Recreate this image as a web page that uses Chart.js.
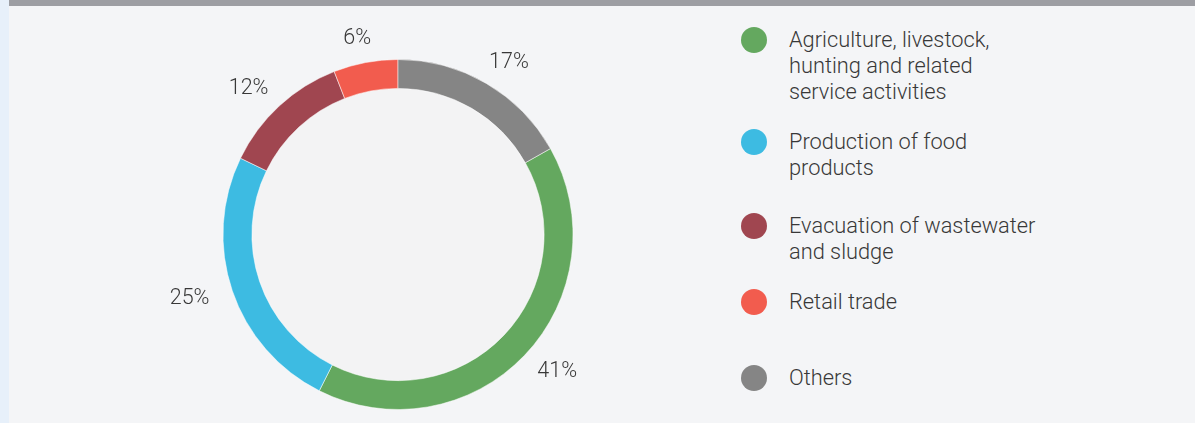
<!DOCTYPE html>
<html>
<head>
<meta charset="utf-8">
<script src="https://cdn.jsdelivr.net/npm/chart.js@4.4.0/dist/chart.umd.min.js"></script>
<style>
    html, body {
        margin: 0;
        padding: 0;
        width: 1195px;
        height: 423px;
        overflow: hidden;
        background: #f4f5f7;
        font-family: "Roboto", sans-serif;
    }
    .side { position: absolute; left: 0; top: 0; width: 9px; height: 423px; background: #e7f0fa; }
    .topbar { position: absolute; left: 9px; top: 0; right: 0; height: 6px; background: #9d9ea3; }
    .chartBox { position: absolute; left: 98px; top: 0; width: 600px; height: 423px; }
    #legend { position: absolute; left: 741px; top: 0; }
    .item { position: absolute; left: 0; display: flex; align-items: flex-start; }
    .dot { width: 26px; height: 26px; border-radius: 50%; margin-top: 1px; flex: none; }
    .txt { margin-left: 22px; margin-top: 1px; font-size: 21.8px; font-weight: 300; line-height: 26px; color: #383838; white-space: nowrap; }
</style>
</head>
<body>
<div class="side"></div>
<div class="topbar"></div>
<div class="chartBox"><canvas id="donut"></canvas></div>
<div id="legend"></div>
<script>
// chart data
const labels = [
    ["Agriculture, livestock,", "hunting and related", "service activities"],
    ["Production of food", "products"],
    ["Evacuation of wastewater", "and sludge"],
    ["Retail trade"],
    ["Others"]
];
const values = [41, 25, 12, 6, 17];
const colors = ["#64a85f", "#3dbbe2", "#a04650", "#f25c4e", "#858585"];

// legend rows (top of each item)
const legendTops = [26, 128, 212, 288, 364];

const total = values.reduce((a, b) => a + b, 0);
// "Others" is drawn first from 12 o'clock, so start the first slice after it
const startAngle = 360 * values[values.length - 1] / total;

// build html legend
let legend = document.getElementById("legend");
labels.forEach((lines, i) => {
    let div = document.createElement("div");
    div.className = "item";
    div.style.top = legendTops[i] + "px";
    div.innerHTML = `<div class="dot" style="background:${colors[i]}"></div>
        <div class="txt">${lines.join("<br>")}</div>`;
    legend.appendChild(div);
});

// percentage labels round the ring + lighter inner disc
const ringLabels = {
    id: "ringLabels",
    beforeDatasetsDraw(chart) {
        let arc = chart.getDatasetMeta(0).data[0];
        let ctx = chart.ctx;
        ctx.save();
        ctx.fillStyle = "#f3f3f4";
        ctx.beginPath();
        ctx.arc(arc.x, arc.y, arc.innerRadius, 0, Math.PI * 2);
        ctx.fill();
        ctx.restore();
    },
    afterDatasetsDraw(chart) {
        let ctx = chart.ctx;
        let meta = chart.getDatasetMeta(0);
        ctx.save();
        ctx.font = "300 21.5px Roboto";
        ctx.fillStyle = "#383838";
        ctx.textAlign = "center";
        ctx.textBaseline = "middle";
        meta.data.forEach((arc, i) => {
            let mid = (arc.startAngle + arc.endAngle) / 2;
            let rx = arc.outerRadius + 45;
            let ry = arc.outerRadius + 24;
            let x = arc.x + Math.cos(mid) * rx;
            let y = arc.y + Math.sin(mid) * ry;
            ctx.fillText(values[i] + "%", x, y);
        });
        ctx.restore();
    }
};

new Chart(document.getElementById("donut"), {
    type: "doughnut",
    data: {
        labels: labels.map(l => l.join(" ")),
        datasets: [{
            data: values,
            backgroundColor: colors,
            borderColor: "rgba(255,255,255,0.5)",
            borderWidth: 1
        }]
    },
    options: {
        responsive: true,
        maintainAspectRatio: false,
        animation: false,
        cutout: "83.5%",
        rotation: startAngle,
        layout: { padding: { top: 59, bottom: 13 } },
        plugins: {
            legend: { display: false },
            tooltip: { enabled: false }
        }
    },
    plugins: [ringLabels]
});
</script>
</body>
</html>
